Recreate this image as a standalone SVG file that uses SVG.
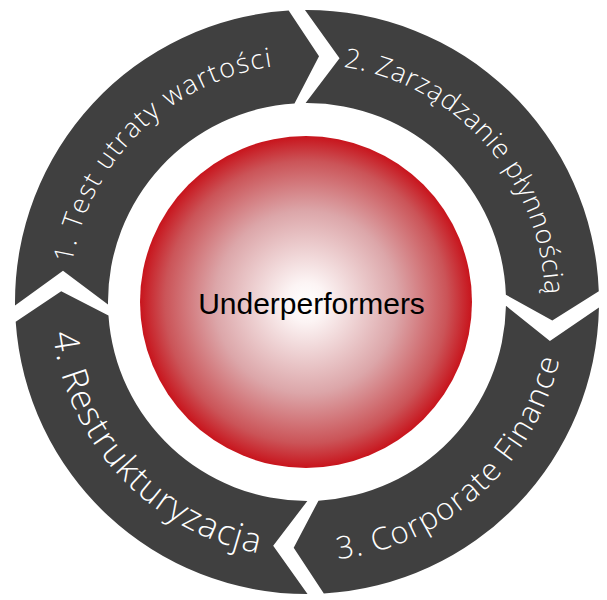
<svg xmlns="http://www.w3.org/2000/svg" width="607" height="600" viewBox="0 0 607 600">
  <defs>
    <radialGradient id="redGlow" cx="0.5" cy="0.5" r="0.5">
      <stop offset="0" stop-color="#ffffff"/>
      <stop offset="0.12" stop-color="#fcf4f4"/>
      <stop offset="0.55" stop-color="#dca6a9"/>
      <stop offset="0.85" stop-color="#cb5458"/>
      <stop offset="1" stop-color="#c8141c"/>
    </radialGradient>
    <path id="arc1" d="M90.42,400.70 A238,238 0 0 1 409.46,87.18"/>
    <path id="arc2" d="M219.77,80.56 A238,238 0 0 1 516.16,415.56"/>
    <path id="arc3" d="M185.41,530.68 A259,259 0 0 0 547.14,204.98"/>
    <path id="arc4" d="M78.90,185.78 A256,256 0 0 0 407.03,537.65"/>
  </defs>
  <style>
    .seg { fill: #404040; stroke: none; }
    .lbl { fill: #ffffff; font-family: "Open Sans", "DejaVu Sans", sans-serif; font-weight: 300; }
    .core { font-family: "Liberation Sans", Arial, sans-serif; font-size: 30px; fill: #000000; }
  </style>
  <g id="connectors"></g>
  <g id="center">
    <circle cx="306" cy="302" r="166" fill="url(#redGlow)"/>
    <text class="core" x="311.5" y="314" text-anchor="middle">Underperformers</text>
  </g>
  <g id="step1">
    <path class="seg" d="M15.02,305.57 A292,292 0 0 1 288.67,10.58 L319.02,56.29 L294.50,103.39 A199,199 0 0 0 108.01,304.43 L63.00,270.74 Z"/>
    <text class="lbl" font-size="27"><textPath href="#arc1" startOffset="50%" text-anchor="middle" textLength="300" lengthAdjust="spacing">1. Test utraty wartości</textPath></text>
  </g>
  <g id="step2">
    <path class="seg" d="M304.96,10.01 A292,292 0 0 1 598.80,291.30 L552.31,320.45 L505.87,294.71 A199,199 0 0 0 305.61,103.00 L339.54,58.16 Z"/>
    <text class="lbl" font-size="27"><textPath href="#arc2" startOffset="50%" text-anchor="middle" textLength="330" lengthAdjust="spacing">2. Zarządzanie płynnością</textPath></text>
  </g>
  <g id="step3">
    <path class="seg" d="M598.95,307.61 A292,292 0 0 1 323.81,593.52 L293.70,547.64 L318.45,500.67 A199,199 0 0 0 505.96,305.82 L549.90,340.91 Z"/>
    <text class="lbl" font-size="31"><textPath href="#arc3" startOffset="50%" text-anchor="middle" textLength="318" lengthAdjust="spacing">3. Corporate Finance</textPath></text>
  </g>
  <g id="step4">
    <path class="seg" d="M307.51,594.00 A292,292 0 0 1 15.68,321.86 L61.23,291.27 L108.46,315.54 A199,199 0 0 0 307.35,501.00 L273.19,545.67 Z"/>
    <text class="lbl" font-size="35"><textPath href="#arc4" startOffset="50%" text-anchor="middle" textLength="322" lengthAdjust="spacing">4. Restrukturyzacja</textPath></text>
  </g>
</svg>
